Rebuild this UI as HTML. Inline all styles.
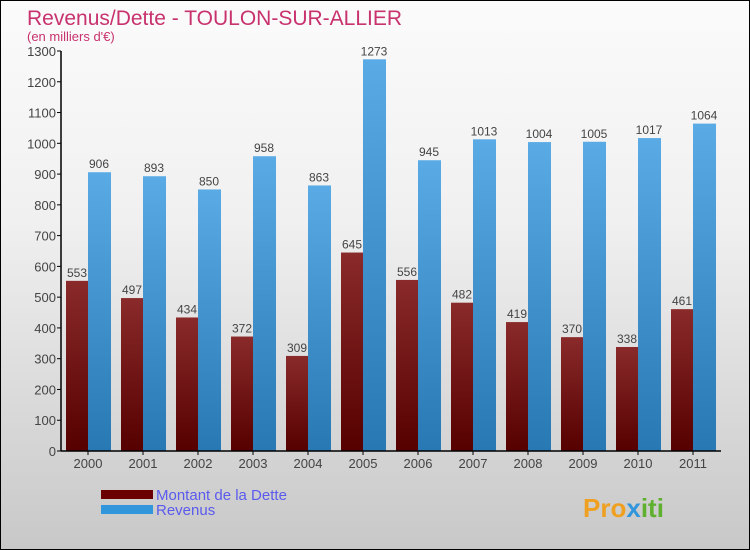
<!DOCTYPE html>
<html><head><meta charset="utf-8"><style>
body{margin:0}
#c{width:750px;height:550px;position:relative;box-sizing:border-box;border:1px solid #000;background:linear-gradient(#fbfbfb,#f0f0f0 40%,#c8c8c8);font-family:"Liberation Sans",sans-serif;overflow:hidden}
</style></head><body>
<div id="c">
<svg id="s" width="750" height="550">
<defs>
<linearGradient id="gd" x1="0" y1="0" x2="0" y2="1"><stop offset="0" stop-color="#8a2a2a"/><stop offset="1" stop-color="#560000"/></linearGradient>
<linearGradient id="gr" x1="0" y1="0" x2="0" y2="1"><stop offset="0" stop-color="#5aaae6"/><stop offset="1" stop-color="#2878b4"/></linearGradient>
</defs>
<text x="26" y="24" font-size="21" fill="#c8326e">Revenus/Dette - TOULON-SUR-ALLIER</text>
<text x="26" y="40" font-size="13" fill="#c8326e">(en milliers d'€)</text>
<g id="g"></g>
<rect x="100" y="489" width="52" height="9" fill="#6a0000"/>
<rect x="100" y="504" width="52" height="9" fill="#3296dc"/>
<text x="155" y="499" font-size="15" fill="#5a5aee">Montant de la Dette</text>
<text x="155" y="514" font-size="15" fill="#5a5aee">Revenus</text>
<text x="582" y="516" font-size="26" font-weight="bold" fill="#f0a020">Pro<tspan fill="#3296dc">x</tspan><tspan fill="#60b030">iti</tspan></text>
</svg></div>
<script>
const categories=["2000","2001","2002","2003","2004","2005","2006","2007","2008","2009","2010","2011"];
const dette=[553,497,434,372,309,645,556,482,419,370,338,461];
const revenus=[906,893,850,958,863,1273,945,1013,1004,1005,1017,1064];
const ticks=[0,100,200,300,400,500,600,700,800,900,1000,1100,1200,1300];
const NS="http://www.w3.org/2000/svg",g=document.getElementById('g');
const x0=60,y0=450,ymax=1300,ph=400,gw=55;
const y=v=>y0-v/ymax*ph;
function mk(t,a){const e=document.createElementNS(NS,t);for(const k in a)e.setAttribute(k,a[k]);g.appendChild(e);return e;}
ticks.forEach(t=>{
 const l=mk('line',{x1:x0-4,x2:x0,y1:y(t),y2:y(t),stroke:'#000'});
 
 
 const tx=mk('text',{x:x0-5,y:y(t)+5,'font-size':13,'text-anchor':'end',fill:'#444'});
 tx.textContent=t;
 
 
});
categories.forEach((c,i)=>{
 const gx=x0+i*gw;
 const b1=mk('rect',{x:gx+5,y:y(dette[i]),width:22,height:y0-y(dette[i]),fill:'url(#gd)'});
 
 
 const b2=mk('rect',{x:gx+27,y:y(revenus[i]),width:23,height:y0-y(revenus[i]),fill:'url(#gr)'});
 
 
 const v1=mk('text',{x:gx+16,y:y(dette[i])-4,'font-size':12,'text-anchor':'middle',fill:'#444'});
 v1.textContent=dette[i];
 
 
 const v2=mk('text',{x:gx+38,y:y(revenus[i])-4,'font-size':12,'text-anchor':'middle',fill:'#444'});
 v2.textContent=revenus[i];
 
 
 const tk=mk('line',{x1:gx+27,x2:gx+27,y1:y0,y2:y0+4,stroke:'#000'});
 
 
 const xl=mk('text',{x:gx+27,y:y0+17,'font-size':13,'text-anchor':'middle',fill:'#444'});
 xl.textContent=c;
 
 
});
const ya=mk('line',{x1:x0,x2:x0,y1:y(ymax),y2:y0,stroke:'#000','stroke-width':1.5});


const xa=mk('line',{x1:x0,x2:720,y1:y0,y2:y0,stroke:'#000','stroke-width':1.5});


</script>
</body></html>
